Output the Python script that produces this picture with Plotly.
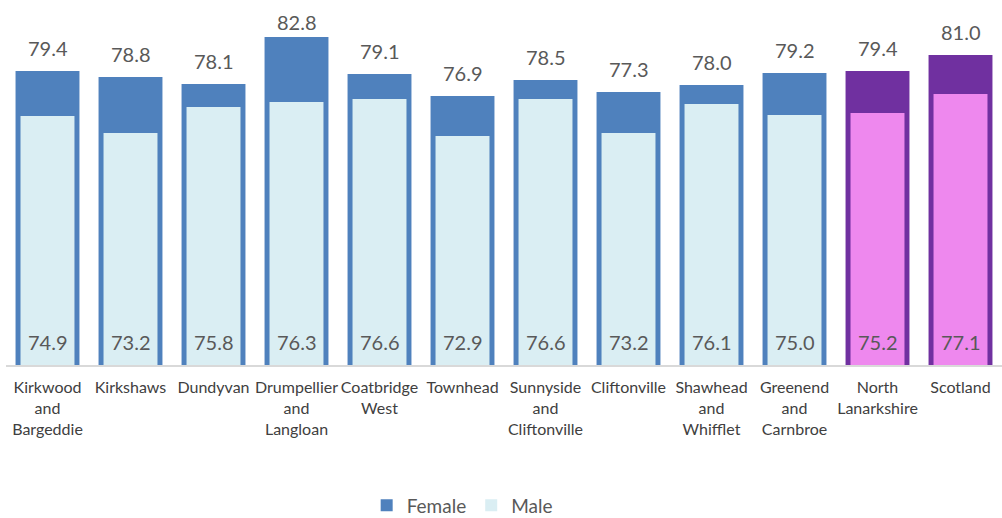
import plotly.graph_objects as go

AREAS = [
    "Kirkwood<br>and<br>Bargeddie", "Kirkshaws", "Dundyvan", "Drumpellier<br>and<br>Langloan",
    "Coatbridge<br>West", "Townhead", "Sunnyside<br>and<br>Cliftonville", "Cliftonville",
    "Shawhead<br>and<br>Whifflet", "Greenend<br>and<br>Carnbroe", "North<br>Lanarkshire", "Scotland",
]
FEMALE = [79.4, 78.8, 78.1, 82.8, 79.1, 76.9, 78.5, 77.3, 78.0, 79.2, 79.4, 81.0]
MALE = [74.9, 73.2, 75.8, 76.3, 76.6, 72.9, 76.6, 73.2, 76.1, 75.0, 75.2, 77.1]

# last two bars (council + national) are highlighted in purple
FEMALE_COLORS = ["#4F81BD"] * 10 + ["#7030A0"] * 2
MALE_COLORS = ["#DAEEF3"] * 10 + ["#EE88EE"] * 2

Y_MIN = 50
TEXT = "#595959"
FONT = dict(family="Lato, Open Sans, sans-serif", color=TEXT)

fig = go.Figure()
# bars start at Y_MIN, so height = value - Y_MIN
fig.add_trace(go.Bar(
    x=AREAS, y=[v - Y_MIN for v in FEMALE], base=Y_MIN, name="Female", width=0.77,
    marker=dict(color=FEMALE_COLORS, line=dict(width=0)),
))
fig.add_trace(go.Bar(
    x=AREAS, y=[v - Y_MIN for v in MALE], base=Y_MIN, name="Male", width=0.65,
    marker=dict(color=MALE_COLORS, line=dict(width=0)),
))

top = max(FEMALE)
for area, f, m in zip(AREAS, FEMALE, MALE):
    # tallest bar's label sits closer so it stays inside the chart
    fig.add_annotation(x=area, y=f, text=f"{f:.1f}", showarrow=False,
                       yanchor="bottom", yshift=1 if f == top else 9,
                       font=dict(size=20, color=TEXT))
    fig.add_annotation(x=area, y=Y_MIN, text=f"{m:.1f}", showarrow=False,
                       yanchor="bottom", yshift=9, font=dict(size=20, color=TEXT))

fig.update_layout(
    barmode="overlay",
    width=1002, height=518,
    font=FONT,
    plot_bgcolor="white", paper_bgcolor="white",
    margin=dict(l=6, r=0, t=5, b=153, autoexpand=False),
    showlegend=True,
    legend=dict(orientation="h", x=0.458, xanchor="center", y=-0.39, yanchor="middle",
                font=dict(size=19, color=TEXT), traceorder="normal"),
    hovermode=False,
)
fig.update_xaxes(showline=True, linecolor="#D9D9D9", linewidth=2, showgrid=False,
                 tickfont=dict(size=16, color="#404040"), ticks="", ticklabelstandoff=7,
                 fixedrange=True)
fig.update_yaxes(range=[Y_MIN, 86], visible=False, showgrid=False, fixedrange=True)

fig.write_html("out.html", config=dict(displayModeBar=False),
               post_script="document.body.style.margin='0';")
